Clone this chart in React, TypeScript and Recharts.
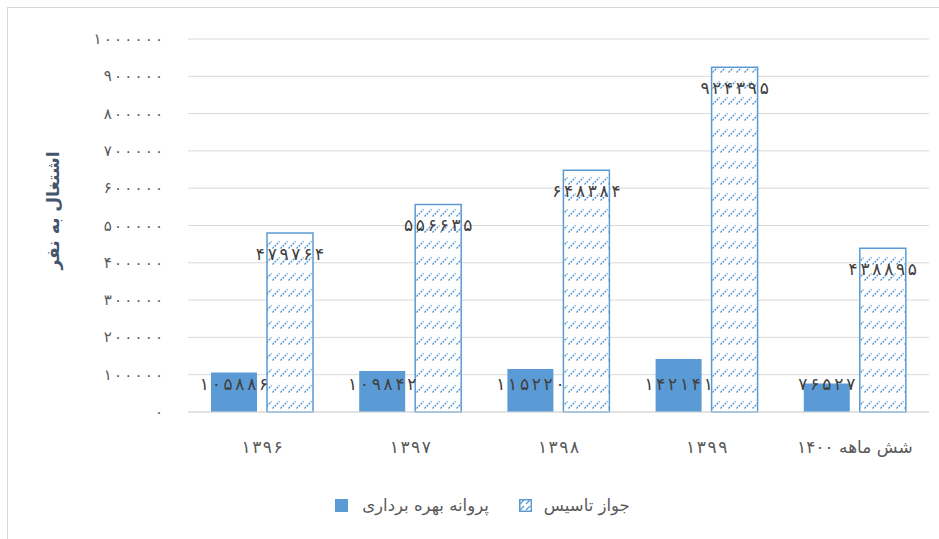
import { BarChart, Bar, XAxis, YAxis, CartesianGrid, Legend, LabelList } from "recharts";

// dasteh-ha va meghdar-ha
const categories = ["۱۳۹۶", "۱۳۹۷", "۱۳۹۸", "۱۳۹۹", "شش ماهه ۱۴۰۰"];
const permitValues = [105886, 109842, 115220, 142141, 76527]; // پروانه بهره برداری
const licenseValues = [479764, 556635, 648384, 924395, 438895]; // جواز تاسیس
const yTicks = [0, 100000, 200000, 300000, 400000, 500000, 600000, 700000, 800000, 900000, 1000000];

const SERIES_PERMIT = "پروانه بهره برداری";
const SERIES_LICENSE = "جواز تاسیس";
const AXIS_TITLE = "اشتغال به نفر";

const BLUE = "#5B9BD5";
const TEXT = "#595959";
const GRID = "#D9D9D9";
const FONT = "'DejaVu Sans', sans-serif";

const FA_DIGITS = "۰۱۲۳۴۵۶۷۸۹";
const toFa = (v: number | string) => String(v).replace(/[0-9]/g, (d) => FA_DIGITS[Number(d)]);
const onlyDigits = (s: string) => /^[۰-۹]+$/.test(s);

const data = categories.map((name, i) => ({
    name,
    permit: permitValues[i],
    license: licenseValues[i],
}));

// adad-ha dar font-e Excel pahn-tar hastand, ba textLength baz mikonim
const DataLabel = (props: any) => {
    const { x, y, width, height, value, fromBottom } = props;
    const s = toFa(value);
    const cy = fromBottom ? y + height - 28 : y + 21;
    return (
        <text
            x={x + width / 2}
            y={cy}
            textAnchor="middle"
            dominantBaseline="central"
            fill="#404040"
            fontSize={17}
            fontFamily={FONT}
            textLength={s.length * 11.4}
            lengthAdjust="spacing"
        >
            {s}
        </text>
    );
};

const YTick = (props: any) => {
    const { x, y, payload } = props;
    const s = toFa(payload.value);
    return (
        <text
            x={x}
            y={y}
            textAnchor="end"
            dominantBaseline="central"
            fill={TEXT}
            fontSize={15}
            fontFamily={FONT}
            textLength={s.length > 1 ? s.length * 10.2 - 2 : undefined}
            lengthAdjust="spacing"
        >
            {s}
        </text>
    );
};

const XTick = (props: any) => {
    const { x, y, payload } = props;
    const s = String(payload.value);
    return (
        <text
            x={x}
            y={y + 4}
            textAnchor="middle"
            dominantBaseline="hanging"
            fill={TEXT}
            fontSize={17}
            fontFamily={FONT}
            textLength={onlyDigits(s) ? s.length * 10.3 : undefined}
            lengthAdjust="spacing"
        >
            {s}
        </text>
    );
};

const LegendContent = () => (
    <div style={{ display: "flex", justifyContent: "center", alignItems: "center", marginTop: 6, paddingLeft: 36, fontFamily: FONT, fontSize: 16.5, color: TEXT }}>
        <svg width={13} height={13} style={{ marginRight: 14 }}>
            <rect x={0} y={0} width={13} height={13} fill={BLUE} />
        </svg>
        <span>{SERIES_PERMIT}</span>
        <svg width={13} height={13} style={{ marginLeft: 30, marginRight: 12 }}>
            <rect x={0.75} y={0.75} width={11.5} height={11.5} fill="url(#hatchLegend)" stroke={BLUE} strokeWidth={1.5} />
            <defs>
                <pattern id="hatchLegend" patternUnits="userSpaceOnUse" width={6} height={6}>
                    <rect width={6} height={6} fill="#ffffff" />
                    <path d="M1,5 L5,1" stroke={BLUE} strokeWidth={1.2} />
                </pattern>
            </defs>
        </svg>
        <span>{SERIES_LICENSE}</span>
    </div>
);

export default function App() {
    return (
        <div style={{ position: "absolute", left: 0, top: 0, width: 939, height: 539, background: "#ffffff" }}>
            <div style={{ position: "absolute", left: 7, top: 7, width: 960, height: 560, border: `1px solid ${GRID}` }} />
            <BarChart
                width={939}
                height={539}
                data={data}
                margin={{ top: 39, right: 10, left: 0, bottom: 19 }}
                barSize={46}
                barGap={10}
                style={{ position: "absolute", left: 0, top: 0 }}
            >
                <defs>
                    <pattern id="hatch" patternUnits="userSpaceOnUse" width={8} height={16}>
                        <rect width={8} height={16} fill="#ffffff" />
                        <path d="M0.5,8.5 L7.5,1.5" stroke={BLUE} strokeWidth={1.5} strokeDasharray="2 1" />
                    </pattern>
                </defs>
                <CartesianGrid vertical={false} stroke={GRID} />
                <XAxis
                    dataKey="name"
                    height={78}
                    tickLine={false}
                    tickSize={0}
                    tickMargin={24}
                    axisLine={{ stroke: GRID }}
                    tick={<XTick />}
                />
                <YAxis
                    width={188}
                    domain={[0, 1000000]}
                    ticks={yTicks}
                    interval={0}
                    axisLine={false}
                    tickLine={false}
                    tickSize={0}
                    tickMargin={25}
                    tick={<YTick />}
                    label={{
                        value: AXIS_TITLE,
                        angle: -90,
                        position: "insideLeft",
                        dx: 48,
                        dy: -15,
                        style: { textAnchor: "middle", fontSize: 17, fontWeight: "bold", fill: "#44546A", fontFamily: FONT },
                    }}
                />
                <Legend verticalAlign="bottom" height={30} content={<LegendContent />} />
                <Bar dataKey="permit" name={SERIES_PERMIT} fill={BLUE} isAnimationActive={false}>
                    <LabelList dataKey="permit" content={<DataLabel fromBottom />} />
                </Bar>
                <Bar
                    dataKey="license"
                    name={SERIES_LICENSE}
                    fill="url(#hatch)"
                    stroke={BLUE}
                    strokeWidth={1.5}
                    isAnimationActive={false}
                >
                    <LabelList dataKey="license" content={<DataLabel />} />
                </Bar>
            </BarChart>
        </div>
    );
}
